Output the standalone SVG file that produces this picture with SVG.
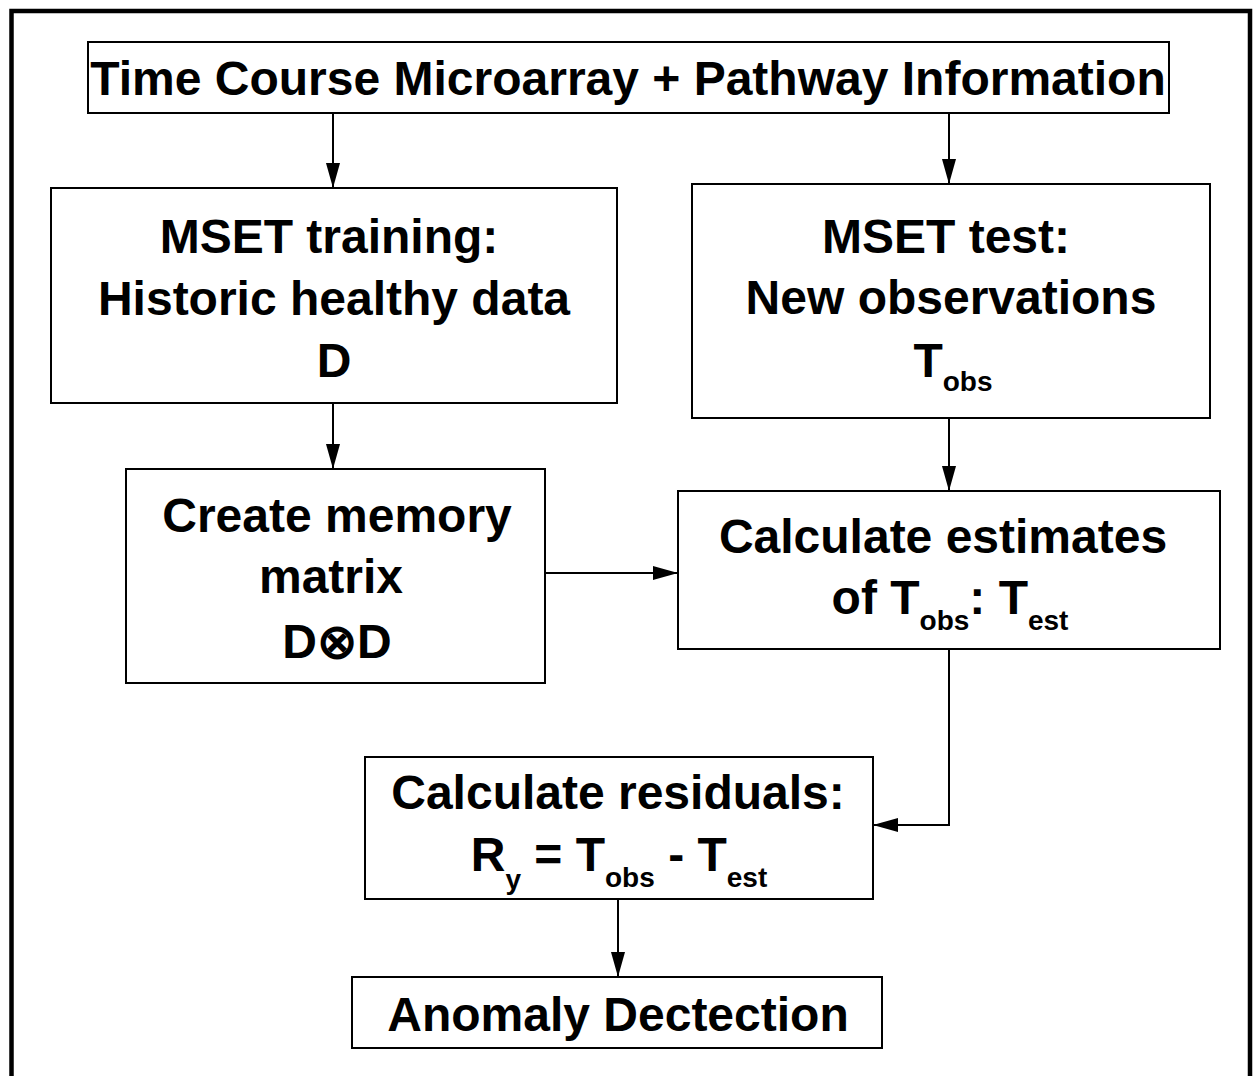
<svg xmlns="http://www.w3.org/2000/svg" width="1257" height="1076" viewBox="0 0 1257 1076">
  <style>
    .box { fill: #fff; stroke: #000; stroke-width: 2; }
    .frame { fill: none; stroke: #000; stroke-width: 4.5; }
    .link { fill: none; stroke: #000; stroke-width: 2; }
    text { font-family: "Liberation Sans", Arial, sans-serif; font-weight: bold; fill: #000; text-anchor: middle; }
    .big { font-size: 48px; }
    .mid { font-size: 48px; }
    .sub { font-size: 28px; }
  </style>
  <defs>
    <marker id="arrow" markerUnits="userSpaceOnUse" markerWidth="26" markerHeight="16" refX="25" refY="8" orient="auto">
      <path d="M0,1 L25,8 L0,15 Z" fill="#000"/>
    </marker>
  </defs>

  <rect width="1257" height="1076" fill="#fff"/>
  <!-- outer frame, open at the bottom -->
  <path class="frame" d="M11.5,1080 V11 H1250 V1080"/>

  <g id="connectors">
    <line class="link" x1="333" y1="113" x2="333" y2="188" marker-end="url(#arrow)"/>
    <line class="link" x1="949" y1="113" x2="949" y2="184" marker-end="url(#arrow)"/>
    <line class="link" x1="333" y1="403" x2="333" y2="469" marker-end="url(#arrow)"/>
    <line class="link" x1="949" y1="418" x2="949" y2="491" marker-end="url(#arrow)"/>
    <line class="link" x1="545" y1="573" x2="678" y2="573" marker-end="url(#arrow)"/>
    <polyline class="link" points="949,649 949,825 873,825" marker-end="url(#arrow)"/>
    <line class="link" x1="618" y1="899" x2="618" y2="977" marker-end="url(#arrow)"/>
  </g>

  <g id="input">
    <rect class="box" x="88" y="42" width="1081" height="71"/>
    <text class="big" x="628" y="95">Time Course Microarray + Pathway Information</text>
  </g>

  <g id="training">
    <rect class="box" x="51" y="188" width="566" height="215"/>
    <text class="mid" x="329" y="253">MSET training:</text>
    <text class="mid" x="334" y="315">Historic healthy data</text>
    <text class="mid" x="334" y="377">D</text>
  </g>

  <g id="test">
    <rect class="box" x="692" y="184" width="518" height="234"/>
    <text class="mid" x="946" y="253">MSET test:</text>
    <text class="mid" x="951" y="314">New observations</text>
    <text class="mid" x="953" y="377">T<tspan class="sub" dy="14">obs</tspan></text>
  </g>

  <g id="memory">
    <rect class="box" x="126" y="469" width="419" height="214"/>
    <text class="mid" x="337" y="532">Create memory</text>
    <text class="mid" x="331" y="593">matrix</text>
    <text class="mid" x="337" y="658">D⊗D</text>
  </g>

  <g id="estimates">
    <rect class="box" x="678" y="491" width="542" height="158"/>
    <text class="mid" x="943" y="553">Calculate estimates</text>
    <text class="mid" x="950" y="614">of T<tspan class="sub" dy="16">obs</tspan><tspan dy="-16">: T</tspan><tspan class="sub" dy="16">est</tspan></text>
  </g>

  <g id="residuals">
    <rect class="box" x="365" y="757" width="508" height="142"/>
    <text class="mid" x="618" y="809">Calculate residuals:</text>
    <text class="mid" x="619" y="871">R<tspan class="sub" dy="18">y</tspan><tspan dy="-18"> = T</tspan><tspan class="sub" dy="16">obs</tspan><tspan dy="-16"> - T</tspan><tspan class="sub" dy="16">est</tspan></text>
  </g>

  <g id="anomaly">
    <rect class="box" x="352" y="977" width="530" height="71"/>
    <text class="mid" x="618" y="1031">Anomaly Dectection</text>
  </g>
</svg>
